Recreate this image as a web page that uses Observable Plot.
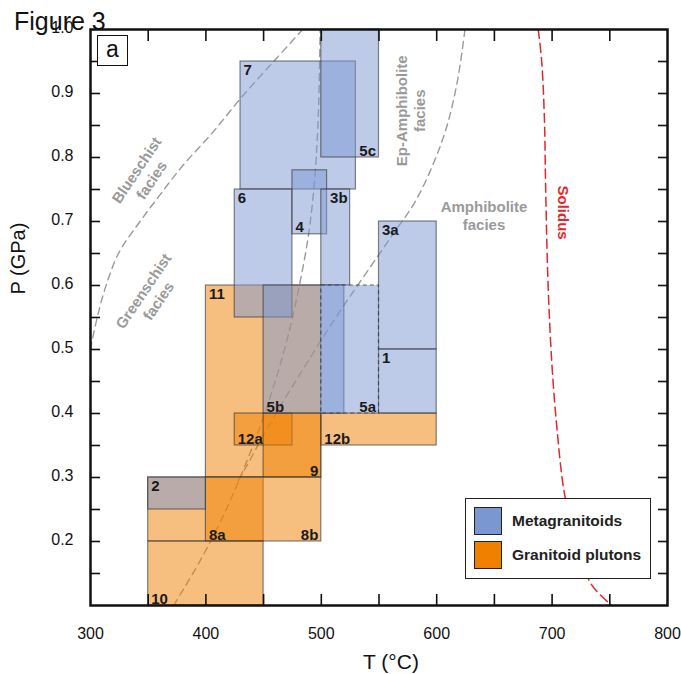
<!DOCTYPE html>
<html><head><meta charset="utf-8">
<script src="https://cdn.jsdelivr.net/npm/d3@7"></script>
<script src="https://cdn.jsdelivr.net/npm/@observablehq/plot@0.6"></script>
<style>
body{margin:0;background:#fff;font-family:"Liberation Sans",Arial,sans-serif;}
#wrap{position:relative;width:681px;height:674px;overflow:hidden;}
#wrap svg{position:absolute;left:0;top:0;}
.fig{position:absolute;left:14px;top:7px;font-size:25px;color:#111;white-space:nowrap;}
.pa{position:absolute;left:97px;top:35px;width:29px;height:29px;border:1.5px solid #111;background:#fff;font-size:23px;line-height:26px;text-align:center;color:#111;}
.legend{position:absolute;left:465px;top:498px;width:184px;height:79px;border:1.5px solid #222;background:#fff;}
.item{position:absolute;left:8px;height:28px;display:flex;align-items:center;white-space:nowrap;font-weight:bold;font-size:15.5px;color:#222;}
.sw{width:26px;height:26px;border:1.5px solid #222;margin-right:10px;}
</style></head>
<body>
<div id="wrap"></div>
<script>
// ---- data ----
const metaId   = ["7","5c","6","4","3b","3a","1","5b","5a","2"];
const metaTmin = [430,500,425,475,500,550,550,450,500,350];
const metaTmax = [530,550,475,505,525,600,600,520,550,400];
const metaPmin = [0.75,0.80,0.55,0.68,0.60,0.50,0.40,0.40,0.40,0.25];
const metaPmax = [0.95,1.00,0.75,0.78,0.75,0.70,0.50,0.60,0.60,0.30];

const plutonId   = ["11","12a","12b","9","8a","8b","10"];
const plutonTmin = [400,425,500,450,350,400,350];
const plutonTmax = [500,475,600,500,450,500,450];
const plutonPmin = [0.30,0.35,0.35,0.30,0.20,0.20,0.10];
const plutonPmax = [0.60,0.40,0.40,0.40,0.30,0.30,0.20];

// box labels: text, anchor point (T, P), corner
const labelText   = ["7","5c","6","4","3b","3a","1","11","5b","5a","12a","12b","9","2","8a","8b","10"];
const labelT      = [430,550,425,475,505,550,550,400,450,550,425,500,500,350,400,500,350];
const labelP      = [0.95,0.80,0.75,0.68,0.75,0.70,0.50,0.60,0.40,0.40,0.35,0.35,0.30,0.30,0.20,0.20,0.10];
const labelCorner = ["tl","br","tl","bl","tl","tl","tl","tl","bl","br","bl","bl","br","tl","bl","br","bl"];

// facies boundaries
const blueschistT = [300,301.1,306.1,313.3,324.8,342.1,359.5,379.8,405.8,431.8,460.7,483.8];
const blueschistP = [0.50,0.511,0.552,0.599,0.652,0.698,0.740,0.787,0.839,0.896,0.954,1.0];
const epAmphT = [372,395,415,432,447,460,471,481,489,494,496.5,498,499];
const epAmphP = [0.10,0.17,0.24,0.31,0.38,0.45,0.52,0.60,0.68,0.76,0.83,0.90,1.0];
const amphT = [428,436,448,464,481,500,520,541,562,581,597,609,618,624.5];
const amphP = [0.295,0.32,0.36,0.41,0.46,0.515,0.57,0.625,0.68,0.73,0.79,0.85,0.92,1.0];
const solidusT = [688,691,693.4,694.3,696.4,699.8,704.4,710.8,721,734,752];
const solidusP = [1.0,0.95,0.857,0.764,0.608,0.478,0.373,0.274,0.20,0.133,0.10];

const faciesText = ["Blueschist\nfacies","Greenschist\nfacies","Ep-Amphibolite\nfacies","Amphibolite\nfacies"];
const faciesT = [346,352,577,641];
const faciesP = [0.773,0.584,0.873,0.710];
const faciesRotate = [-56,-56,-90,0];

const xTickLabels = [300,400,500,600,700,800];
const yTickLabels = [0.2,0.3,0.4,0.5,0.6,0.7,0.8,0.9,1.0];

// ---- tables ----
const metas = metaId.map((id,i)=>({id, Tmin:metaTmin[i], Tmax:metaTmax[i], Pmin:metaPmin[i], Pmax:metaPmax[i]}));
const plutons = plutonId.map((id,i)=>({id, Tmin:plutonTmin[i], Tmax:plutonTmax[i], Pmin:plutonPmin[i], Pmax:plutonPmax[i]}));
const labels = labelText.map((t,i)=>({text:t, T:labelT[i], P:labelP[i], corner:labelCorner[i]}));
const pts = (T,P)=>T.map((t,i)=>({T:t,P:P[i]}));
const facies = faciesText.map((t,i)=>({text:t,T:faciesT[i],P:faciesP[i],rot:faciesRotate[i]}));

const xMinor = d3.range(7,16).map(i=>i*50);          // 350..750
const yMinor = d3.range(3,20).map(i=>+(i*0.05).toFixed(2)); // 0.15..0.95

const FONT = '"Liberation Sans", Arial, sans-serif';
const BLUE = "#7b97d1", ORANGE = "#f08000";

const lineOpts = {x:"T", y:"P", curve:"catmull-rom", stroke:"#9a9a9a", strokeWidth:1.4, strokeDasharray:"7,5"};
const rectOpts = {x1:"Tmin", x2:"Tmax", y1:"Pmin", y2:"Pmax", fillOpacity:0.5, stroke:"#333", strokeOpacity:0.6, strokeWidth:1.2};
const lab = (corner, opts) => Plot.text(labels.filter(d=>d.corner===corner), {x:"T", y:"P", text:"text", fontWeight:"bold", fontSize:15, fill:"#1a1a1a", ...opts});

const chart = Plot.plot({
  width: 681, height: 674,
  marginLeft: 90, marginRight: 14, marginTop: 29, marginBottom: 69,
  x: {domain: [300, 800]},
  y: {domain: [0.1, 1.0]},
  style: {fontFamily: FONT, background: "white", color: "#111", overflow: "visible"},
  marks: [
    Plot.line(pts(blueschistT, blueschistP), lineOpts),
    Plot.line(pts(epAmphT, epAmphP), lineOpts),
    Plot.line(pts(amphT, amphP), lineOpts),
    Plot.line(pts(solidusT, solidusP), {...lineOpts, stroke:"#e0282a", strokeWidth:1.5, strokeDasharray:"9,5"}),
    Plot.rect(plutons, {...rectOpts, fill: ORANGE}),
    Plot.rect(metas.filter(d=>d.id!=="5a"), {...rectOpts, fill: BLUE}),
    Plot.rect(metas.filter(d=>d.id==="5a"), {...rectOpts, fill: BLUE, strokeDasharray:"4,3", strokeOpacity:0.75}),
    lab("tl", {textAnchor:"start", lineAnchor:"top", dx:3, dy:3}),
    lab("bl", {textAnchor:"start", lineAnchor:"bottom", dx:3, dy:-2}),
    lab("br", {textAnchor:"end", lineAnchor:"bottom", dx:-3, dy:-2}),
    ...facies.map(f => Plot.text([f], {x:"T", y:"P", text:"text", rotate:f.rot, fontWeight:"bold", fontSize:15, fill:"#9a9a9a", lineHeight:1.2, textAnchor:"middle", lineAnchor:"middle"})),
    Plot.text(["Solidus"], {text:d=>d, x:()=>709.6, y:()=>0.714, rotate:90, fontWeight:"bold", fontSize:15, fill:"#e0282a", textAnchor:"middle", lineAnchor:"middle"}),
    Plot.frame({stroke:"#111", strokeWidth:2.5}),
    Plot.axisX({anchor:"bottom", ticks:xMinor, tickSize:-11, strokeWidth:1.6, fill:"none", label:null}),
    Plot.axisX({anchor:"top", ticks:xMinor, tickSize:-11, strokeWidth:1.6, fill:"none", label:null}),
    Plot.axisY({anchor:"left", ticks:yMinor, tickSize:-10, strokeWidth:1.6, fill:"none", label:null}),
    Plot.axisY({anchor:"right", ticks:yMinor, tickSize:-10, strokeWidth:1.6, fill:"none", label:null}),
    Plot.axisX({anchor:"bottom", ticks:xTickLabels, tickSize:0, tickPadding:22, fontSize:16, label:null}),
    Plot.axisY({anchor:"left", ticks:yTickLabels, tickSize:0, tickPadding:17, fontSize:16, tickFormat:d3.format(".1f"), label:null, dy:-2}),
    Plot.text(["T (°C)"], {text:d=>d, frameAnchor:"bottom", dx:12, dy:57, fontSize:21, lineAnchor:"middle", fill:"#111"}),
    Plot.text(["P (GPa)"], {text:d=>d, frameAnchor:"left", rotate:-90, dx:-72, dy:-23, fontSize:20, lineAnchor:"middle", fill:"#111"})
  ]
});
const wrap = document.getElementById("wrap");
wrap.appendChild(chart);
wrap.insertAdjacentHTML("beforeend", `
<div class="fig">Figure 3</div>
<div class="pa">a</div>
<div class="legend">
  <div class="item" style="top:8px"><div class="sw" style="background:${BLUE}"></div>Metagranitoids</div>
  <div class="item" style="top:42px"><div class="sw" style="background:${ORANGE}"></div>Granitoid plutons</div>
</div>`);
</script>
</body></html>
